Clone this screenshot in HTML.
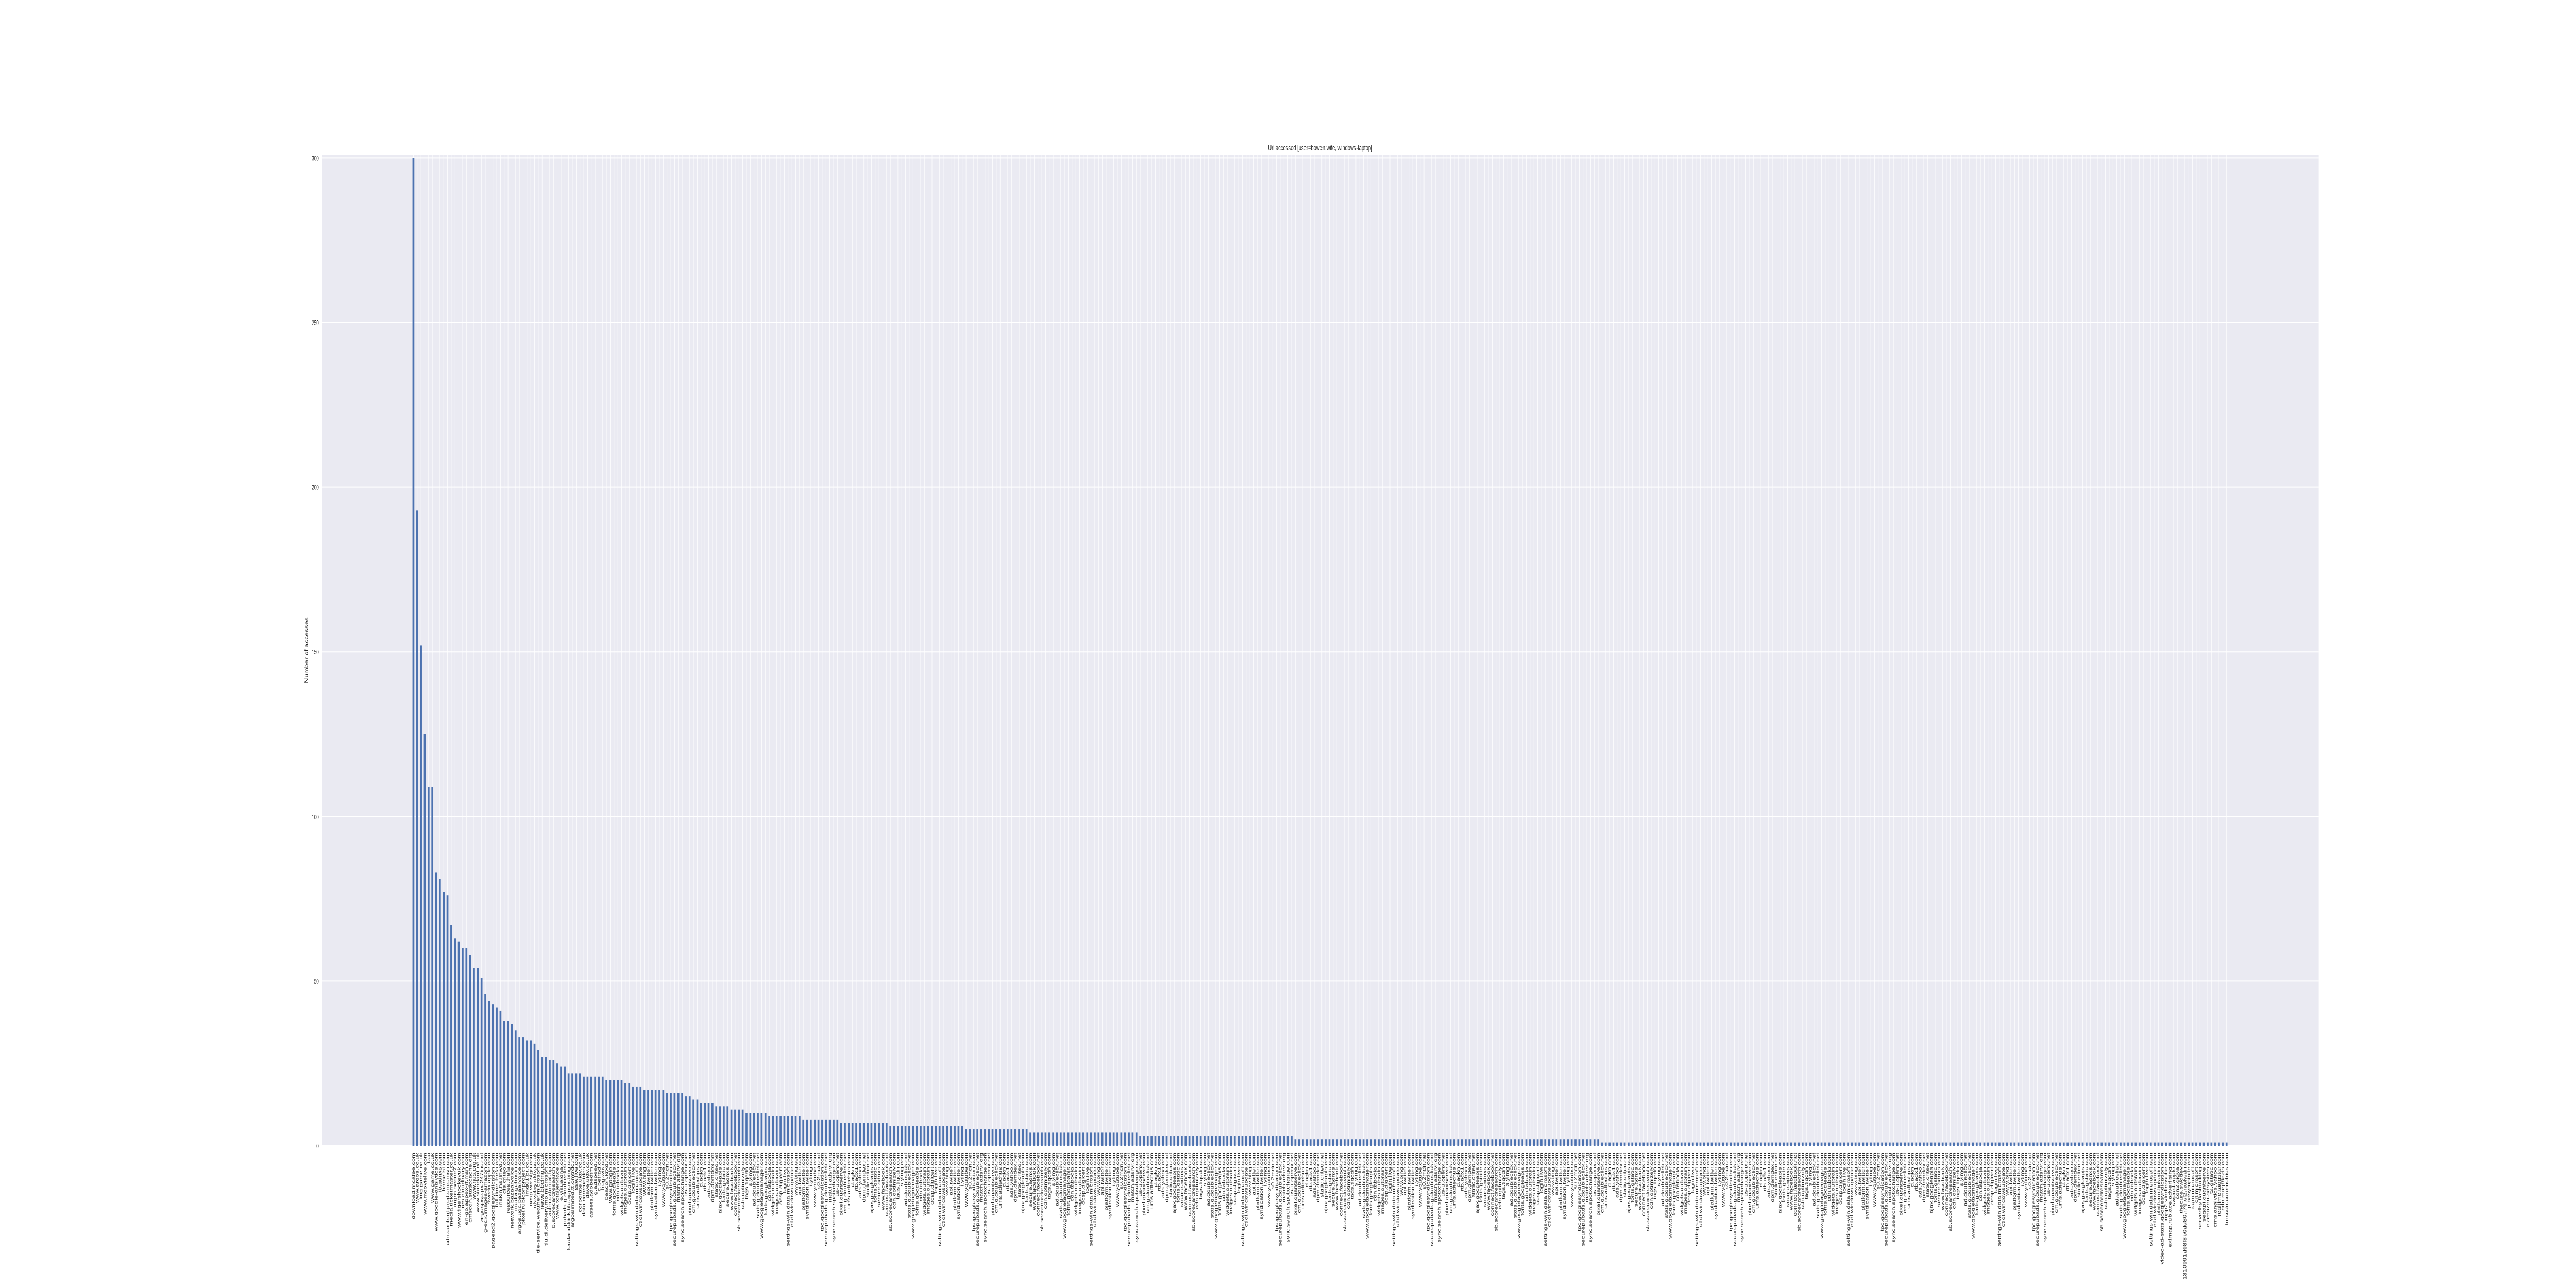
<!DOCTYPE html>
<html><head><meta charset="utf-8"><style>
html,body{margin:0;padding:0;background:#fff;width:100%;height:100%;overflow:hidden;}
svg{display:block;font-family:"Liberation Sans",sans-serif;width:100vw;height:100vh;}
</style></head><body>
<svg id="chart" xmlns="http://www.w3.org/2000/svg" viewBox="0 0 8000 2500" preserveAspectRatio="none">
<rect x="1000" y="300" width="6201" height="1924" fill="#EAEAF2"/>
<g id="grid"></g><g id="bars"></g><g id="yticks"></g><g id="xlabels"></g>
<text x="4100" y="292" font-size="15" text-anchor="middle" fill="#262626">Url accessed [user=bowen.wife, windows-laptop]</text>
<text transform="translate(956,1262) rotate(-90)" font-size="14" text-anchor="middle" fill="#262626">Number of accesses</text>
</svg>
<script>
const topLabels = ["download.mcafee.com","www.argos.co.uk","img.game.co.uk","www.moovielive.com","t.co","www.game.co.uk","www.google-analytics.com","ib.adnxs.com","home.bt.com","cdn.content.prod.cms.msn.com","media.ticketmaster.co.uk","argos.scene7.com","www.tigershockeyuk.com","res.cloudinary.com","en-gb.appex-rf.msn.com","cmscdn.staticcache.org","www.nus.org.uk","www.standard.co.uk","argospsp.px.247inc.net","g-ecx.images-amazon.com","swcdn.apple.com","pagead2.googlesyndication.com","full-time.thefa.com","inskin.hs.llnwd.net","dis.criteo.com","resources.thefa.com","network.bazaarvoice.com","media.getmein.com","argos.ugc.bazaarvoice.com","pixel.rubiconproject.com","img01.bt.co.uk","ocsp.verisign.com","uktvplay.uktv.co.uk","tile-service.weather.microsoft.com","news.bbcimg.co.uk","tlu.dl.delivery.mp.microsoft.com","aclm.external.hp.com","b.scorecardresearch.com","www.totaljerkface.com","e.visualdna.com","pubads.g.doubleclick.net","foodanddrink.tile.appex.bing.com","argoslimited.tt.omtrdc.net","ssw.live.com","corporate.uktv.co.uk","data.coremetrics.com","dave.uktv.co.uk","assets.adobedtm.com","g.adspeed.net","c.betrad.com","frog.wix.com","beacon.krxd.net","www.google.com"];
const endLabels = ["platform.linkedin.com","video-ad-stats.googlesyndication.com","mpp2.vindicosuite.com","extmap.rub.ace.advertising.com","swpost.apple.com","cdn2.gigya.com","thecure.swddev.com","1310991d68f8b0dd80.r76.cf2.rackcdn.com","p.adsymptotic.com","sqm.microsoft.com","crl.microsoft.com","servedby.flashtalking.com","segapi.quantserve.com","c.amazon-adsystem.com","t2.gstatic.com","cms.analytics.yahoo.com","realtime.taggstar.com","cdn.marphezis.com","tmscdn.coremetrics.com"];
const middlePool = ["static.criteo.net","ajax.googleapis.com","fonts.gstatic.com","secure.adnxs.com","www.facebook.com","connect.facebook.net","sb.scorecardresearch.com","cdn.optimizely.com","tags.tiqcdn.com","s.yimg.com","ad.doubleclick.net","stats.g.doubleclick.net","www.googletagmanager.com","fonts.googleapis.com","cdn.taboola.com","widgets.outbrain.com","images.outbrain.com","ocsp.digicert.com","login.live.com","settings-win.data.microsoft.com","ctldl.windowsupdate.com","www.bing.com","api.twitter.com","platform.twitter.com","syndication.twitter.com","i.ytimg.com","www.youtube.com","s0.2mdn.net","tpc.googlesyndication.com","securepubads.g.doubleclick.net","match.adsrvr.org","sync.search.spotxchange.com","us-u.openx.net","pixel.quantserve.com","cm.g.doubleclick.net","ums.adtechus.com","d.agkn.com","rtb.adx1.com","ads.yahoo.com","dpm.demdex.net"];
const values = [
300,193,152,125,109,109,83,81,77,76,67,63,62,60,60,58,54,54,51,
46,44,43,42,41,38,38,37,35,33,33,32,32,31,29,27,27,26,26,25,24,24,22,22,22,22,21,21,21,21,21,21,20,20,
20,20,20,19,19,18,18,18,17,17,17,17,17,17,16,16,16,16,16,15,15,14,14,
13,13,13,13,12,12,12,12,11,11,11,11,10,10,10,10,10,10,
9,9,9,9,9,9,9,9,9,8,8,8,8,8,8,8,8,8,8,
7,7,7,7,7,7,7,7,7,7,7,7,7,
6,6,6,6,6,6,6,6,6,6,
6,6,6,6,6,6,6,6,6,6,
5,5,5,5,5,5,5,5,5,5,5,5,5,5,5,5,5,
4,4,4,4,4,4,4,4,4,4,
4,4,4,4,4,4,4,4,4,4,
4,4,4,4,4,4,4,4,4,
3,3,3,3,3,3,3,3,3,3,
3,3,3,3,3,3,3,3,3,3,
3,3,3,3,3,3,3,3,3,3,
3,3,3,3,3,3,3,3,3,3,
3,
2,2,2,2,2,2,2,2,2,2,
2,2,2,2,2,2,2,2,2,2,
2,2,2,2,2,2,2,2,2,2,
2,2,2,2,2,2,2,2,2,2,
2,2,2,2,2,2,2,2,2,2,
2,2,2,2,2,2,2,2,2,2,
2,2,2,2,2,2,2,2,2,2,
2,2,2,2,2,2,2,2,2,2,
2,
1,1,1,1,1,1,1,1,1,1,
1,1,1,1,1,1,1,1,1,1,
1,1,1,1,1,1,1,1,1,1,
1,1,1,1,1,1,1,1,1,1,
1,1,1,1,1,1,1,1,1,1,
1,1,1,1,1,1,1,1,1,1,
1,1,1,1,1,1,1,1,1,1,
1,1,1,1,1,1,1,1,1,1,
1,1,1,1,1,1,1,1,1,1,
1,1,1,1,1,1,1,1,1,1,
1,1,1,1,1,1,1,1,1,1,
1,1,1,1,1,1,1,1,1,1,
1,1,1,1,1,1,1,1,1,1,
1,1,1,1,1,1,1,1,1,1,
1,1,1,1,1,1,1,1,1,1,
1,1,1,1,1,1,1,1,1,1,
1,1,1,1,1,1
];
const yTicks = [0,50,100,150,200,250,300];

const NS = "http://www.w3.org/2000/svg";
const n = values.length;
const categories = [];
for (let i = 0; i < n; i++) {
  if (i < topLabels.length) categories.push(topLabels[i]);
  else if (i >= n - endLabels.length) categories.push(endLabels[i - (n - endLabels.length)]);
  else categories.push(middlePool[i % middlePool.length]);
}
const PL = 1000, PR = 7201, PT = 300, PB = 2224;
const xMin = -24.15, xMax = (n - 1) + 24.35, yMax = 301;
function xs(i){ return PL + (i - xMin) * (PR - PL) / (xMax - xMin); }
function ys(v){ return PB - v * (PB - PT) / yMax; }
const step = (PR - PL) / (xMax - xMin);
const barW = step * 0.5;

const grid = document.getElementById('grid');
const bars = document.getElementById('bars');
const yt = document.getElementById('yticks');
const xl = document.getElementById('xlabels');

for (let i = 0; i < n; i++) {
  const gl = document.createElementNS(NS, 'line');
  
  
  const x = xs(i);
  gl.setAttribute('x1', x); gl.setAttribute('x2', x);
  gl.setAttribute('y1', PT); gl.setAttribute('y2', PB);
  gl.setAttribute('stroke', '#fff'); gl.setAttribute('stroke-width', '1.2');
  grid.appendChild(gl);
}
yTicks.forEach(t => {
  const gl = document.createElementNS(NS, 'line');
  
  
  gl.setAttribute('x1', PL); gl.setAttribute('x2', PR);
  gl.setAttribute('y1', ys(t)); gl.setAttribute('y2', ys(t));
  gl.setAttribute('stroke', '#fff'); gl.setAttribute('stroke-width', '2');
  grid.appendChild(gl);
  const tx = document.createElementNS(NS, 'text');
  
  
  tx.setAttribute('x', 990); tx.setAttribute('y', ys(t) + 5);
  tx.setAttribute('font-size', '13'); tx.setAttribute('text-anchor', 'end');
  tx.setAttribute('fill', '#262626');
  tx.textContent = t;
  yt.appendChild(tx);
});
for (let i = 0; i < n; i++) {
  const v = Math.min(values[i], yMax);
  const r = document.createElementNS(NS, 'rect');
  
  
  r.setAttribute('x', xs(i) - barW / 2);
  r.setAttribute('y', ys(v));
  r.setAttribute('width', barW);
  r.setAttribute('height', PB - ys(v));
  r.setAttribute('fill', '#4C72B0');
  bars.appendChild(r);
  const tx = document.createElementNS(NS, 'text');
  
  
  tx.setAttribute('transform', 'translate(' + (xs(i) + 4.5) + ',2237) rotate(-90)');
  tx.setAttribute('font-size', '13');
  tx.setAttribute('text-anchor', 'end');
  tx.setAttribute('fill', '#262626');
  tx.textContent = categories[i];
  xl.appendChild(tx);
}
</script>
</body></html>
